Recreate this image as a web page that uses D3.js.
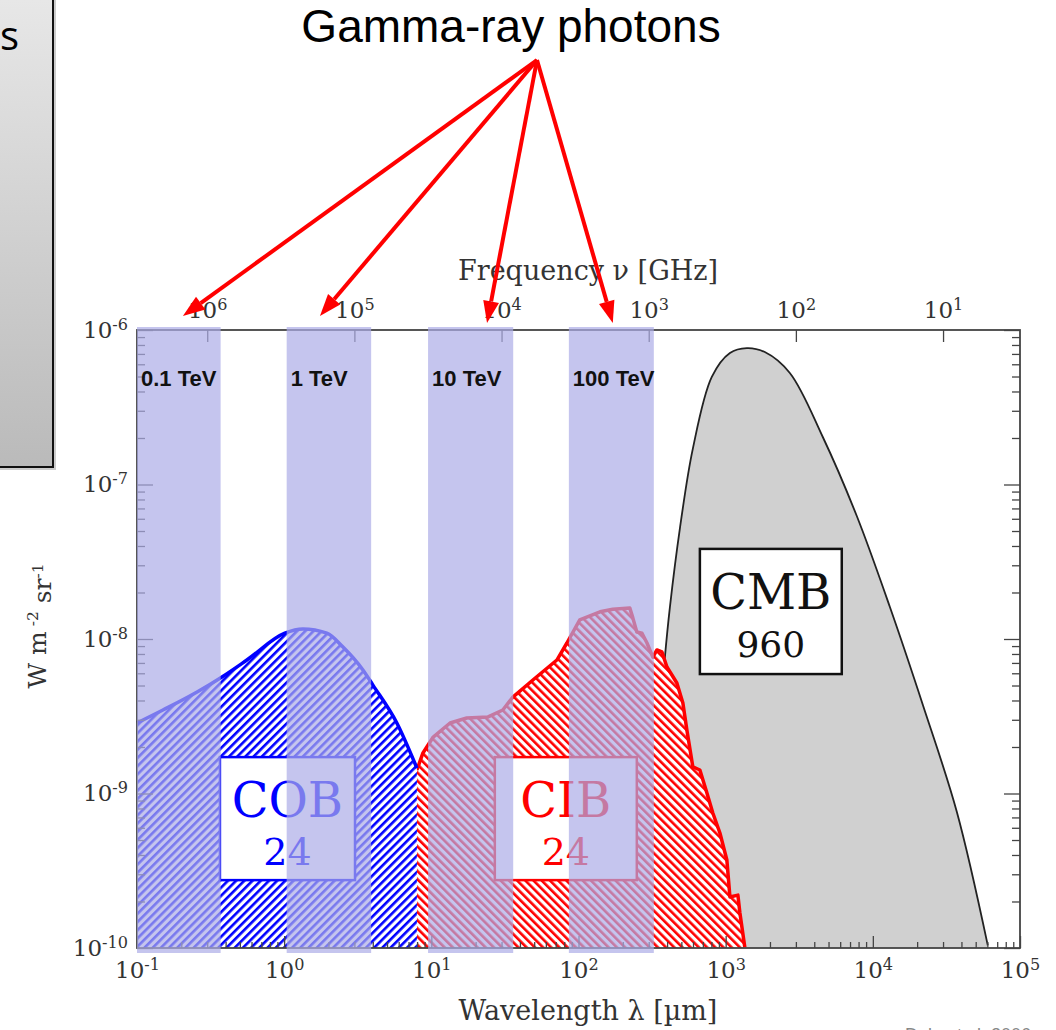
<!DOCTYPE html>
<html>
<head>
<meta charset="utf-8">
<script src="https://cdn.jsdelivr.net/npm/d3@7"></script>
<style>
  html, body { margin: 0; padding: 0; background: #fff; }
  svg { display: block; }
</style>
</head>
<body>
<svg width="1056" height="1030"></svg>
<script>
// ---- data (wavelength in µm, intensity in W m^-2 sr^-1) ----
const cobWavelength = [0.1, 0.15, 0.256, 0.378, 0.558, 1.01, 1.34, 1.95, 2.51, 3.43, 4.01, 5.83, 7.98];
const cobIntensity = [2.86e-9, 3.47e-9, 4.54e-9, 5.68e-9, 7.31e-9, 1.09e-8, 1.16e-8, 1.09e-8, 8.87e-9, 6.30e-9, 5.03e-9, 2.86e-9, 1.46e-9];

const cibWavelength = [7.98, 8.77, 10.3, 13.4, 17.4, 24.3, 30.6, 35.8, 49.0, 71.3, 83.4, 102, 140, 171, 223, 234, 249, 270, 292, 320, 341, 369, 399, 466, 512, 545, 598, 668, 745, 818, 914, 1019, 1069, 1211, 1249, 1349];
const cibIntensity = [1.42e-9, 1.83e-9, 2.32e-9, 2.86e-9, 3.08e-9, 3.13e-9, 3.47e-9, 4.21e-9, 5.43e-9, 7.31e-9, 9.42e-9, 1.33e-8, 1.50e-8, 1.56e-8, 1.59e-8, 1.37e-8, 1.11e-8, 1.09e-8, 9.42e-9, 7.64e-9, 8.49e-9, 8.24e-9, 6.59e-9, 5.19e-9, 3.85e-9, 2.58e-9, 1.49e-9, 1.42e-9, 1.01e-9, 7.48e-10, 5.55e-10, 3.71e-10, 2.14e-10, 2.20e-10, 1.69e-10, 1.01e-10];

const cmbWavelength = [270, 386, 418, 489, 598, 805, 1069, 1393, 1845, 2729, 4571, 7780, 13060, 21880, 37240, 60400];
const cmbIntensity = [1e-10, 7.53e-9, 1.61e-8, 5.22e-8, 1.70e-7, 4.97e-7, 7.1e-7, 7.64e-7, 7.2e-7, 5.27e-7, 2.03e-7, 6.25e-8, 1.61e-8, 3.74e-9, 7.59e-10, 1.04e-10];

// gamma-ray absorption bands
const bandLow = [0.1, 1.04, 9.5, 86];
const bandHigh = [0.37, 3.9, 36, 325];
const bandLabels = ["0.1 TeV", "1 TeV", "10 TeV", "100 TeV"];
const arrowTargets = [0.205, 1.75, 23.9, 171];

// background labels
const bgNames = ["COB", "CIB", "CMB"];
const bgValues = ["24", "24", "960"];

// tick exponents
const xTickExp = [-1, 0, 1, 2, 3, 4, 5];
const yTickExp = [-10, -9, -8, -7, -6];
const nuTickExp = [6, 5, 4, 3, 2, 1];

// ---- layout ----
const svg = d3.select("svg");
const margin = { top: 330, right: 36, bottom: 82, left: 137 };
const width = 1056 - margin.left - margin.right;
const height = 1030 - margin.top - margin.bottom;
const serif = "'DejaVu Serif', serif";
const sans = "'Liberation Sans', Arial, sans-serif";

const x = d3.scaleLog().domain([0.1, 1e5]).range([0, width]);
const y = d3.scaleLog().domain([1e-10, 1e-6]).range([height, 0]);
// nu [GHz] = 3e5 / lambda [um]
const xNu = d3.scaleLog().domain([3e6, 3]).range([0, width]);

const defs = svg.append("defs");
function hatch(id, color, angle) {
    const p = defs.append("pattern")
        .attr("id", id)
        .attr("patternUnits", "userSpaceOnUse")
        .attr("width", 5.8).attr("height", 5.8)
        .attr("patternTransform", `rotate(${angle})`);
    p.append("rect").attr("width", 5.8).attr("height", 5.8).attr("fill", "#fff");
    p.append("rect").attr("width", 2.6).attr("height", 5.8).attr("fill", color);
}
hatch("hatch-blue", "#0000ff", 45);
hatch("hatch-red", "#ff0000", -45);

const grad = defs.append("linearGradient").attr("id", "boxgrad")
    .attr("x1", 0).attr("y1", 0).attr("x2", 0).attr("y2", 1);
grad.append("stop").attr("offset", "0%").attr("stop-color", "#e8e8e8");
grad.append("stop").attr("offset", "100%").attr("stop-color", "#bababa");

// left slide box (cropped)
svg.append("rect").attr("x", -10).attr("y", -10).attr("width", 66).attr("height", 480).attr("fill", "#999").attr("opacity", 0.5);
svg.append("rect").attr("x", -10).attr("y", -10).attr("width", 63).attr("height", 477)
    .attr("fill", "url(#boxgrad)").attr("stroke", "#111").attr("stroke-width", 2);
svg.append("text").attr("x", 19).attr("y", 50).attr("text-anchor", "end")
    .attr("font-family", "'Open Sans', sans-serif").attr("font-size", 40).text("s");

const g = svg.append("g").attr("transform", `translate(${margin.left},${margin.top})`);

const zip = (a, b) => a.map((v, i) => [v, b[i]]);
const cmb = zip(cmbWavelength, cmbIntensity);
const cib = zip(cibWavelength, cibIntensity);
const cob = zip(cobWavelength, cobIntensity);

// CMB
g.append("path").datum(cmb)
    .attr("d", d3.area().x(d => x(d[0])).y0(height).y1(d => y(d[1])).curve(d3.curveCatmullRom))
    .attr("fill", "#d0d0d0");
g.append("path").datum(cmb)
    .attr("d", d3.line().x(d => x(d[0])).y(d => y(d[1])).curve(d3.curveCatmullRom))
    .attr("fill", "none").attr("stroke", "#222").attr("stroke-width", 1.8);

// CIB
g.append("path").datum(cib)
    .attr("d", d3.area().x(d => x(d[0])).y0(height).y1(d => y(d[1])))
    .attr("fill", "url(#hatch-red)");
g.append("path").datum(cib)
    .attr("d", d3.line().x(d => x(d[0])).y(d => y(d[1])))
    .attr("fill", "none").attr("stroke", "#ff0000").attr("stroke-width", 3.5).attr("stroke-linejoin", "round");

// COB
g.append("path").datum(cob)
    .attr("d", d3.area().x(d => x(d[0])).y0(height).y1(d => y(d[1])).curve(d3.curveMonotoneX))
    .attr("fill", "url(#hatch-blue)");
g.append("path").datum(cob)
    .attr("d", d3.line().x(d => x(d[0])).y(d => y(d[1])).curve(d3.curveMonotoneX))
    .attr("fill", "none").attr("stroke", "#0000ff").attr("stroke-width", 3.5).attr("stroke-linejoin", "round");

// axes
function decadeMinors(lo, hi) {
    const out = [];
    for (let e = lo; e < hi; e++) for (let m = 2; m <= 9; m++) out.push(m * Math.pow(10, e));
    return out;
}
function sciLabels(sel) {
    sel.selectAll(".tick text").each(function (d) {
        const e = Math.round(Math.log10(d));
        const t = d3.select(this).text(null);
        t.append("tspan").text("10");
        t.append("tspan").attr("dy", "-0.5em").attr("font-size", "0.7em").text(e);
    });
}
function styleAxis(sel) {
    sel.select(".domain").remove();
    sel.attr("color", "#444").attr("font-family", serif).attr("font-size", 23);
    sel.selectAll(".tick line").attr("stroke-width", 1.3);
    sel.selectAll(".tick text").attr("fill", "#333");
}
const noLabel = () => "";

g.append("g").attr("transform", `translate(0,${height})`)
    .call(d3.axisBottom(x).tickValues(decadeMinors(-1, 5)).tickSize(-6).tickFormat(noLabel)).call(styleAxis);
g.append("g").attr("transform", `translate(0,${height})`)
    .call(d3.axisBottom(x).tickValues(xTickExp.map(e => Math.pow(10, e))).tickSize(-12).tickPadding(14).tickFormat(noLabel))
    .call(styleAxis).call(sciLabels);

g.append("g")
    .call(d3.axisLeft(y).tickValues(decadeMinors(-10, -6)).tickSize(-8).tickFormat(noLabel)).call(styleAxis);
g.append("g")
    .call(d3.axisLeft(y).tickValues(yTickExp.map(e => Math.pow(10, e))).tickSize(-16).tickPadding(9).tickFormat(noLabel))
    .call(styleAxis).call(sciLabels);

g.append("g").attr("transform", `translate(${width},0)`)
    .call(d3.axisRight(y).tickValues(decadeMinors(-10, -6)).tickSize(-8).tickFormat(noLabel)).call(styleAxis);
g.append("g").attr("transform", `translate(${width},0)`)
    .call(d3.axisRight(y).tickValues(yTickExp.map(e => Math.pow(10, e))).tickSize(-16).tickFormat(noLabel)).call(styleAxis);

g.append("g")
    .call(d3.axisTop(xNu).tickValues(nuTickExp.map(e => Math.pow(10, e))).tickSize(-12).tickPadding(12).tickFormat(noLabel))
    .call(styleAxis).call(sciLabels);

g.append("rect").attr("width", width).attr("height", height)
    .attr("fill", "none").attr("stroke", "#444").attr("stroke-width", 1.8);

// axis titles
g.append("text").attr("x", 451).attr("y", -50).attr("text-anchor", "middle")
    .attr("font-family", serif).attr("font-size", 27).attr("fill", "#333")
    .text("Frequency \u03bd [GHz]");
g.append("text").attr("x", 451).attr("y", height + 72).attr("text-anchor", "middle")
    .attr("font-family", serif).attr("font-size", 27).attr("fill", "#333")
    .text("Wavelength \u03bb [\u00b5m]");
const yTitle = svg.append("text")
    .attr("transform", "translate(46,626) rotate(-90)")
    .attr("text-anchor", "middle")
    .attr("font-family", serif).attr("font-size", 25).attr("fill", "#333");
yTitle.append("tspan").text("W m");
yTitle.append("tspan").attr("dy", "-0.5em").attr("font-size", "0.62em").text(" -2");
yTitle.append("tspan").attr("dy", "0.5em").text(" sr");
yTitle.append("tspan").attr("dy", "-0.5em").attr("font-size", "0.62em").text("-1");

// label boxes (wavelength / intensity extents)
const boxLo = [0.366, 27.0, 668];
const boxHi = [3.03, 249, 6150];
const boxTop = [1.72e-9, 1.72e-9, 3.83e-8];
const boxBottom = [2.75e-10, 2.75e-10, 5.93e-9];
const boxColor = ["#0000ff", "#ff0000", "#111"];
bgNames.forEach((name, i) => {
    const x0 = x(boxLo[i]), x1 = x(boxHi[i]);
    const y0 = y(boxTop[i]), y1 = y(boxBottom[i]);
    g.append("rect").attr("x", x0).attr("y", y0).attr("width", x1 - x0).attr("height", y1 - y0)
        .attr("fill", "#fff").attr("stroke", boxColor[i]).attr("stroke-width", 2.5);
    g.append("text").attr("x", (x0 + x1) / 2).attr("y", y0 + 60).attr("text-anchor", "middle")
        .attr("font-family", serif).attr("font-size", 48).attr("fill", boxColor[i]).text(name);
    g.append("text").attr("x", (x0 + x1) / 2).attr("y", y0 + 108).attr("text-anchor", "middle")
        .attr("font-family", serif).attr("font-size", i === 2 ? 36 : 38).attr("fill", boxColor[i]).text(bgValues[i]);
});

// bands overlay
bandLow.forEach((lo, i) => {
    g.append("rect")
        .attr("x", x(lo)).attr("y", -3)
        .attr("width", x(bandHigh[i]) - x(lo)).attr("height", height + 8)
        .attr("fill", "rgb(172,173,231)").attr("opacity", 0.7);
    g.append("text")
        .attr("x", x(lo) + 4).attr("y", 56)
        .attr("font-family", sans).attr("font-weight", "bold").attr("font-size", 22)
        .attr("fill", "#111").text(bandLabels[i]);
});

// title and arrows
svg.append("text").attr("x", 511).attr("y", 42).attr("text-anchor", "middle")
    .attr("font-family", sans).attr("font-size", 46).attr("fill", "#000").text("Gamma-ray photons");

const origin = [537, 60];
const tipOffset = [-14, -14, -7, -7];
arrowTargets.forEach((lam, i) => {
    const tx = margin.left + x(lam), ty = margin.top + tipOffset[i];
    const dx = tx - origin[0], dy = ty - origin[1];
    const len = Math.hypot(dx, dy), ux = dx / len, uy = dy / len;
    const head = 22, half = 8;
    const bx = tx - ux * head, by = ty - uy * head;
    svg.append("line").attr("x1", origin[0]).attr("y1", origin[1]).attr("x2", bx).attr("y2", by)
        .attr("stroke", "#ff0000").attr("stroke-width", 4);
    svg.append("path")
        .attr("d", `M${tx},${ty}L${bx - uy * half},${by + ux * half}L${bx + uy * half},${by - ux * half}Z`)
        .attr("fill", "#ff0000");
});

// cropped citation at the bottom edge, as in the source slide
svg.append("text").attr("x", 905).attr("y", 1041).attr("font-family", sans).attr("font-size", 18)
    .attr("fill", "#888").text("Dole et al. 2006");
</script>
</body>
</html>
